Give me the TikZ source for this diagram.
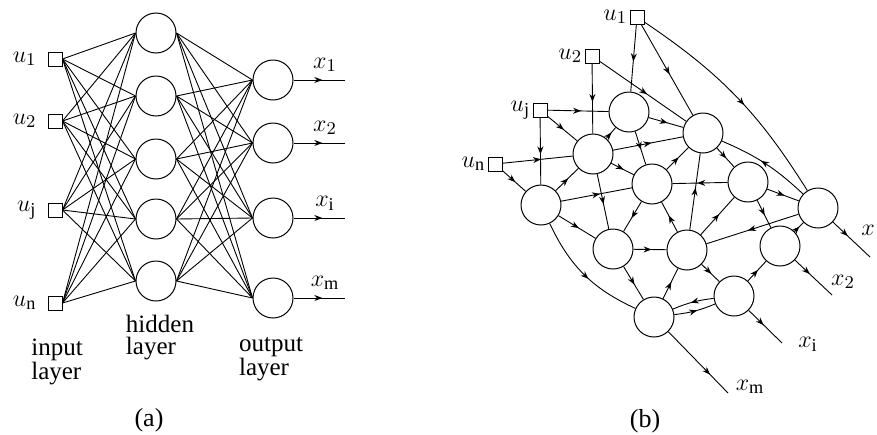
\documentclass[tikz,border=0pt]{standalone}
\usepackage{fontspec}
\setmainfont{Liberation Serif}
\usetikzlibrary{arrows.meta, positioning, calc, decorations.markings}

\tikzset{
  neuron/.style={circle, draw, line width=0.5pt, minimum size=20pt, inner sep=0pt},
  inbox/.style={rectangle, draw, line width=0.5pt, minimum size=7pt, inner sep=0pt},
  wire/.style={line width=0.45pt},
  midarr/.style={postaction={decorate}, decoration={markings, mark=at position #1 with {\arrow{Stealth[length=4pt, width=3pt]}}}},
  midarr/.default=0.55,
  layerlab/.style={align=left, font=\rmfamily\fontsize{12.5}{11}\selectfont, inner sep=1pt}
}

\begin{document}
\begin{tikzpicture}[x=0.5pt, y=-0.5pt, font=\rmfamily\fontsize{13}{15}\selectfont, >=Stealth]
    \useasboundingbox (0,0) rectangle (877,434);

    % (a) layered network
    % Input units
    \foreach \n/\y/\lab in {1/59/1, 2/121/2, 3/210/\mathrm{j}, 4/303/\mathrm{n}}
        \node[inbox, label={[label distance=2pt]left:$u_{\lab}$}] (in\n) at (55,\y) {};

    % Hidden units
    \foreach \n/\y in {1/33, 2/96, 3/159, 4/219, 5/281}
        \node[neuron] (hid\n) at (156,\y) {};

    % Output units and outgoing lines
    \foreach \n/\y/\lab in {1/80/1, 2/143/2, 3/218/\mathrm{i}, 4/298/\mathrm{m}} {
        \node[neuron] (out\n) at (273,\y) {};
        \coordinate (end\n) at (345,\y);
        \draw[wire, midarr=0.56] (out\n) -- (end\n);
        \node (xa\n) at (325,{\y-15}) {$x_{\lab}$};
    }

    % Full connections
    \foreach \i in {1,...,4}
        \foreach \j in {1,...,5}
            \draw[wire] (in\i.east) -- (hid\j.west);
    \foreach \j in {1,...,5}
        \foreach \k in {1,...,4}
            \draw[wire] (hid\j.east) -- (out\k.west);

    % Layer names
    \node[layerlab] (inlab) at (57,362) {input\\layer};
    \node[layerlab] (hidlab) at (160,338) {hidden\\layer};
    \node[layerlab] (outlab) at (271,359) {output\\layer};
    \node (capa) at (149,420) {(a)};

    % (b) recurrent network
    % Input units
    \node[inbox, label={[label distance=0pt, inner sep=1pt]left:$u_1$}] (v1) at (637,17) {};
    \node[inbox, label={[label distance=0pt, inner sep=1pt]left:$u_2$}] (v2) at (592,56) {};
    \node[inbox, label={[label distance=0pt, inner sep=1pt]left:$u_{\mathrm{j}}$}] (vj) at (540,110) {};
    \node[inbox, label={[label distance=0pt, inner sep=1pt]left:$u_{\mathrm{n}}$}] (vn) at (495,164) {};

    % Neurons
    \foreach \n/\x/\y in {1/541/205, 2/593/154, 3/629/112, 4/703/133, 5/652/184, 6/748/182,
                          7/818/208, 8/613/249, 9/687/250, 10/734/296, 11/780/246, 12/654/317}
        \node[neuron] (r\n) at (\x,\y) {};

    % Straight connections
    \foreach \a/\b in {v1/r3, v1/r4, v2/r4, v2/r2, vj/r3, vj/r2, vj/r1, vn/r2, vn/r1,
                       r1/r2, r1/r5, r1/r8, r2/r3, r2/r4, r2/r5, r2/r8, r3/r4, r3/r5,
                       r5/r4, r4/r6, r9/r4, r6/r5, r5/r8, r9/r5, r6/r7, r6/r11, r9/r6,
                       r7/r9, r11/r7, r8/r9, r8/r12, r9/r10, r12/r9, r10/r11}
        \draw[wire, midarr] (\a) -- (\b);

    % Curved connections
    \draw[wire, midarr] (v1) to[bend left=12] (r7);
    \draw[wire, midarr] (r7) to[bend right=10] (r4);
    \draw[wire, midarr] (r1) to[bend right=20] (r12);
    \draw[wire, midarr] (r10) to[bend right=8] (r12);
    \draw[wire, midarr] (r12) to[bend right=8] (r10);

    % Outputs
    \coordinate (ob7) at (870,257);
    \coordinate (ob11) at (832,295);
    \coordinate (ob10) at (782,343);
    \coordinate (ob12) at (728,393);
    \draw[wire, midarr=0.4] (r7) -- (ob7);
    \draw[wire, midarr=0.4] (r11) -- (ob11);
    \draw[wire, midarr=0.45] (r10) -- (ob10);
    \draw[wire, midarr=0.7] (r12) -- (ob12);
    \node (xb7) at (868,230) {$x$};
    \node (xb11) at (843,282) {$x_2$};
    \node (xb10) at (808,344) {$x_{\mathrm{i}}$};
    \node (xb12) at (750,387) {$x_{\mathrm{m}}$};
    \node (capb) at (645,421) {(b)};
\end{tikzpicture}
\end{document}
